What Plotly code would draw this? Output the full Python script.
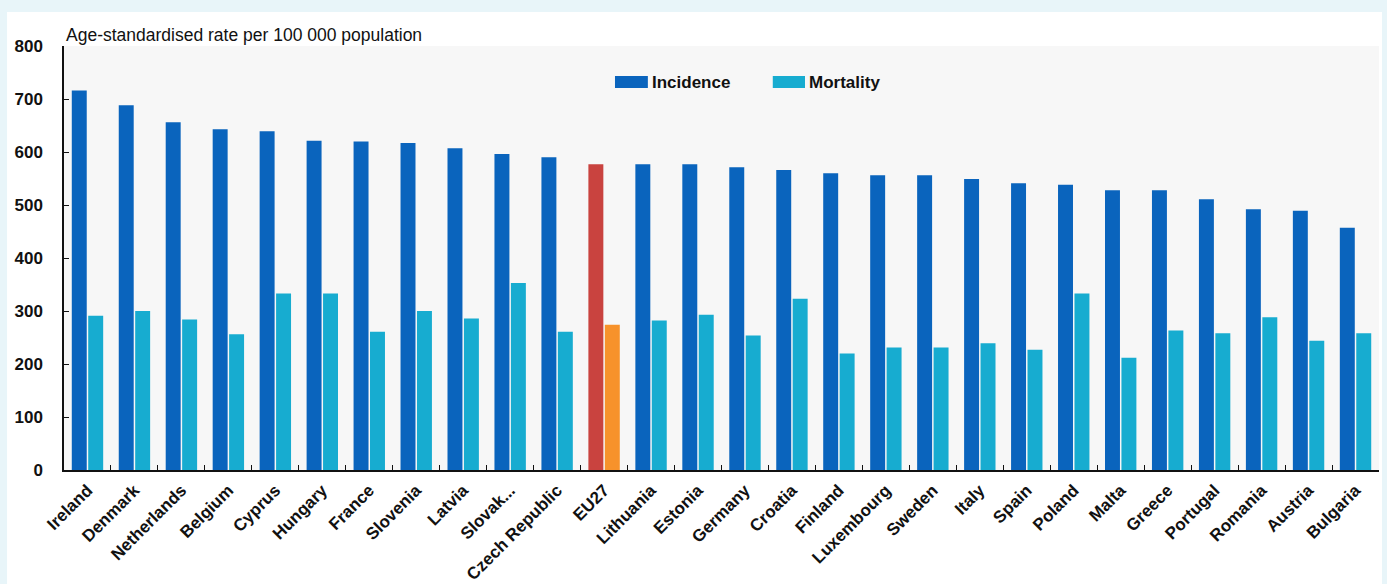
import plotly.graph_objects as go

# Cancer incidence and mortality, age-standardised rate per 100 000 population
countries = [
    "Ireland", "Denmark", "Netherlands", "Belgium", "Cyprus", "Hungary", "France",
    "Slovenia", "Latvia", "Slovak...", "Czech Republic", "EU27", "Lithuania",
    "Estonia", "Germany", "Croatia", "Finland", "Luxembourg", "Sweden", "Italy",
    "Spain", "Poland", "Malta", "Greece", "Portugal", "Romania", "Austria", "Bulgaria",
]
incidence = [
    716, 688, 656, 643, 639, 621, 620, 617, 607, 596, 590, 577, 577, 577,
    571, 566, 560, 556, 556, 549, 541, 538, 528, 528, 511, 492, 489, 457,
]
mortality = [
    291, 300, 284, 256, 333, 333, 261, 300, 286, 353, 261, 274, 282, 293,
    254, 323, 220, 231, 231, 239, 227, 333, 212, 263, 258, 288, 244, 258,
]

INC_COLOR = "#0a64bd"
MORT_COLOR = "#17acd0"
EU_INC_COLOR = "#c9433f"
EU_MORT_COLOR = "#f7922b"

inc_colors = [EU_INC_COLOR if c == "EU27" else INC_COLOR for c in countries]
mort_colors = [EU_MORT_COLOR if c == "EU27" else MORT_COLOR for c in countries]

LABEL_FONT = "Liberation Sans, Arial, sans-serif"

fig = go.Figure()
fig.add_trace(go.Bar(
    x=countries, y=incidence, name="Incidence",
    marker=dict(color=inc_colors, line=dict(width=0)),
    showlegend=False,
))
fig.add_trace(go.Bar(
    x=countries, y=mortality, name="Mortality",
    marker=dict(color=mort_colors, line=dict(width=0)),
    showlegend=False,
))

# light blue frame around the white panel
frame = "#e8f5f9"
shapes = [
    dict(type="rect", xref="paper", yref="paper", x0=-0.1, x1=1.1, y0=1.080, y1=1.3,
         fillcolor=frame, line=dict(width=0), layer="below"),
    dict(type="rect", xref="paper", yref="paper", x0=-0.1, x1=-0.0433, y0=-0.4, y1=1.3,
         fillcolor=frame, line=dict(width=0), layer="below"),
    dict(type="rect", xref="paper", yref="paper", x0=1.0023, x1=1.1, y0=-0.4, y1=1.3,
         fillcolor=frame, line=dict(width=0), layer="below"),
]

# legend swatches
leg_y0, leg_y1 = 0.901, 0.929
shapes += [
    dict(type="rect", xref="paper", yref="paper", x0=0.419, x1=0.444, y0=leg_y0, y1=leg_y1,
         fillcolor=INC_COLOR, line=dict(width=0)),
    dict(type="rect", xref="paper", yref="paper", x0=0.539, x1=0.5635, y0=leg_y0, y1=leg_y1,
         fillcolor=MORT_COLOR, line=dict(width=0)),
]

annotations = [
    dict(text="Age-standardised rate per 100 000 population", xref="paper", yref="paper",
         x=0.0, y=1.0, xanchor="left", yanchor="bottom", yshift=-1, showarrow=False,
         font=dict(family="Liberation Sans, Arial, sans-serif", size=17.5, color="#111111")),
    dict(text="<b>Incidence</b>", xref="paper", yref="paper", x=0.4456, y=0.915,
         xanchor="left", yanchor="middle", showarrow=False,
         font=dict(family=LABEL_FONT, size=17, color="#111111")),
    dict(text="<b>Mortality</b>", xref="paper", yref="paper", x=0.565, y=0.915,
         xanchor="left", yanchor="middle", showarrow=False,
         font=dict(family=LABEL_FONT, size=17, color="#111111")),
]

fig.update_layout(
    width=1387, height=584,
    margin=dict(l=64, r=8, t=46, b=114, pad=0),
    paper_bgcolor="white",
    plot_bgcolor="#f7f7f7",
    barmode="group",
    bargap=0.3,
    bargroupgap=0.09,
    shapes=shapes,
    annotations=annotations,
    xaxis=dict(
        type="category",
        automargin=False,
        tickangle=-45,
        tickson="boundaries",
        ticks="inside", ticklen=5, tickcolor="#111111", tickwidth=1,
        showline=True, linecolor="#111111", linewidth=1.5,
        showgrid=False, zeroline=False,
        ticklabelstandoff=2,
        tickfont=dict(family=LABEL_FONT, size=17, color="#111111", weight="bold"),
    ),
    yaxis=dict(
        automargin=False,
        range=[0, 800],
        tickvals=[0, 100, 200, 300, 400, 500, 600, 700, 800],
        ticks="inside", ticklen=5, tickcolor="#111111", tickwidth=1,
        showline=True, linecolor="#111111", linewidth=1.5,
        showgrid=False, zeroline=False,
        ticklabelstandoff=16,
        tickfont=dict(family=LABEL_FONT, size=17, color="#111111", weight="bold"),
    ),
)

fig.write_html("out.html")
